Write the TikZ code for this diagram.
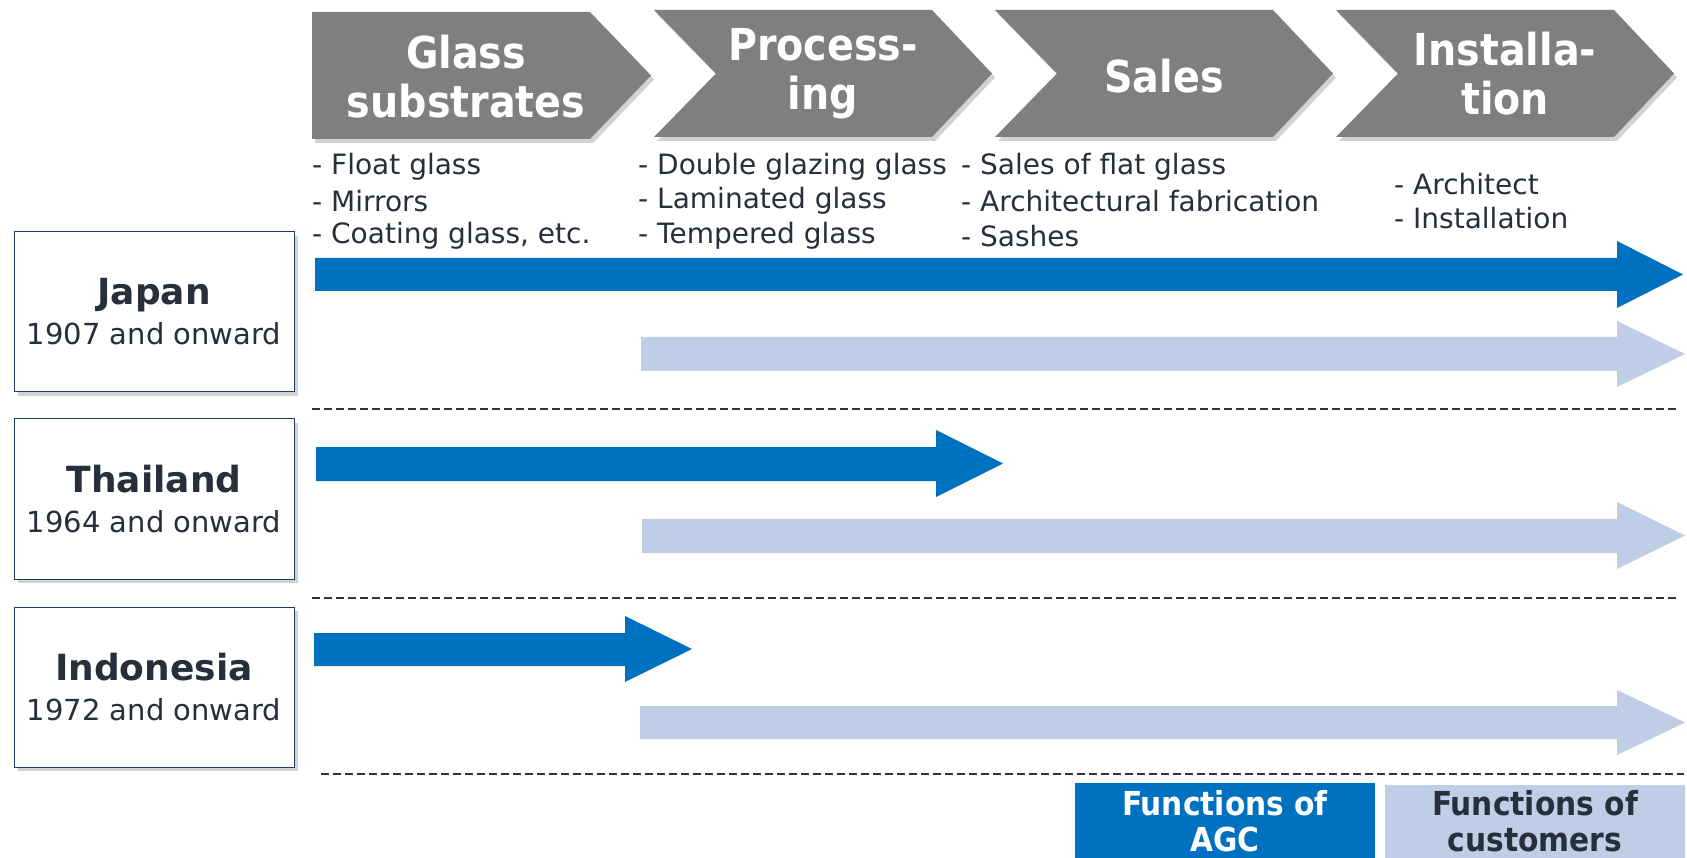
\documentclass[tikz,border=0pt]{standalone}
\usepackage{fontspec}
\setmainfont{DejaVu Sans}
\newfontfamily\cond{DejaVu Sans Condensed}
\usetikzlibrary{shadows}
\definecolor{agc}{RGB}{0,112,192}
\definecolor{cust}{RGB}{191,205,231}
\definecolor{chev}{RGB}{127,127,127}
\definecolor{txt}{RGB}{38,47,58}
\definecolor{navy}{RGB}{31,56,100}
\definecolor{dashc}{RGB}{50,50,50}
\tikzset{
  chevshape/.style={fill=chev, drop shadow={shadow xshift=3pt,shadow yshift=-4pt,opacity=0.35}},
  chevtext/.style={text=white, align=center, font=\cond\bfseries\fontsize{44}{49}\selectfont},
  listtext/.style={text=txt, anchor=west, inner sep=0pt, font=\fontsize{28}{33}\selectfont},
  cbox/.style={draw=navy, line width=1pt, fill=white, minimum width=280pt, minimum height=160pt,
     align=center, text=txt, font=\fontsize{29}{40}\selectfont,
     drop shadow={shadow xshift=4pt,shadow yshift=-4pt,opacity=0.35}},
  cname/.style={font=\bfseries\fontsize{36}{40}\selectfont},
  agcarrow/.style={fill=agc},
  custarrow/.style={fill=cust},
  sep/.style={draw=dashc, line width=2pt, dash pattern=on 8pt off 4pt},
  legtext/.style={align=center, font=\cond\bfseries\fontsize{33}{36}\selectfont},
}
\begin{document}
\begin{tikzpicture}[x=1pt,y=-1pt]
\clip (0,0) rectangle (1687,858);
\fill[white] (0,0) rectangle (1687,858);
% chevrons
\path[chevshape] (312,12) -- (590,12) -- (651,75.5) -- (590,139) -- (312,139) -- cycle;
\foreach \x in {654,995,1336}{
  \path[chevshape] (\x,10) -- (\x+278,10) -- (\x+338,73.5) -- (\x+278,137) -- (\x,137) -- (\x+62,73.5) -- cycle;
}
\node[chevtext] (c1) at (466,77) {Glass\\substrates};
\node[chevtext] (c2) at (823,74) {Process-\\ing};
\node[chevtext] (c3) at (1164,76) {Sales};
\node[chevtext] (c4) at (1505,74) {Installa-\\tion};
% lists
\node[listtext] (l11) at (312,167) {- Float glass};
\node[listtext] (l12) at (312,201) {- Mirrors};
\node[listtext] (l13) at (312,236) {- Coating glass, etc.};
\node[listtext] (l21) at (638,167) {- Double glazing glass};
\node[listtext] (l22) at (638,201) {- Laminated glass};
\node[listtext] (l23) at (638,236) {- Tempered glass};
\node[listtext] (l31) at (961,167) {- Sales of flat glass};
\node[listtext] (l32) at (961,201) {- Architectural fabrication};
\node[listtext] (l33) at (961,236) {- Sashes};
\node[listtext] (l41) at (1394,184) {- Architect};
\node[listtext] (l42) at (1394,218) {- Installation};
% country boxes
\node[cbox] (japan) at (154,312) {{\bfseries\fontsize{36}{40}\selectfont Japan}\\1907 and onward};
\node[cbox] (thai) at (154,499) {{\bfseries\fontsize{36}{40}\selectfont Thailand}\\1964 and onward};
\node[cbox] (indo) at (154,687) {{\bfseries\fontsize{36}{40}\selectfont Indonesia}\\1972 and onward};
% arrows
\path[agcarrow] (315,258) -- (1617,258) -- (1617,241) -- (1683,274.5) -- (1617,308) -- (1617,291) -- (315,291) -- cycle;
\path[custarrow] (641,337) -- (1617,337) -- (1617,321) -- (1685,354) -- (1617,387) -- (1617,371) -- (641,371) -- cycle;
\path[agcarrow] (316,447) -- (936,447) -- (936,430) -- (1003,463.5) -- (936,497) -- (936,481) -- (316,481) -- cycle;
\path[custarrow] (642,519) -- (1617,519) -- (1617,502) -- (1685,535.5) -- (1617,569) -- (1617,553) -- (642,553) -- cycle;
\path[agcarrow] (314,633) -- (625,633) -- (625,616) -- (692,649) -- (625,682) -- (625,666) -- (314,666) -- cycle;
\path[custarrow] (640,706) -- (1617,706) -- (1617,690) -- (1685,722.5) -- (1617,755) -- (1617,739) -- (640,739) -- cycle;
% separators
\draw[sep] (312,409) -- (1676,409);
\draw[sep] (312,598) -- (1676,598);
\draw[sep] (321,774) -- (1684,774);
% legend
\fill[agc] (1075,783) rectangle (1375,870);
\fill[cust] (1385,785) rectangle (1685,870);
\node[legtext, text=white] (lagc) at (1225,821) {Functions of\\AGC};
\node[legtext, text=txt] (lcust) at (1535,821) {Functions of\\customers};
\end{tikzpicture}
\end{document}
